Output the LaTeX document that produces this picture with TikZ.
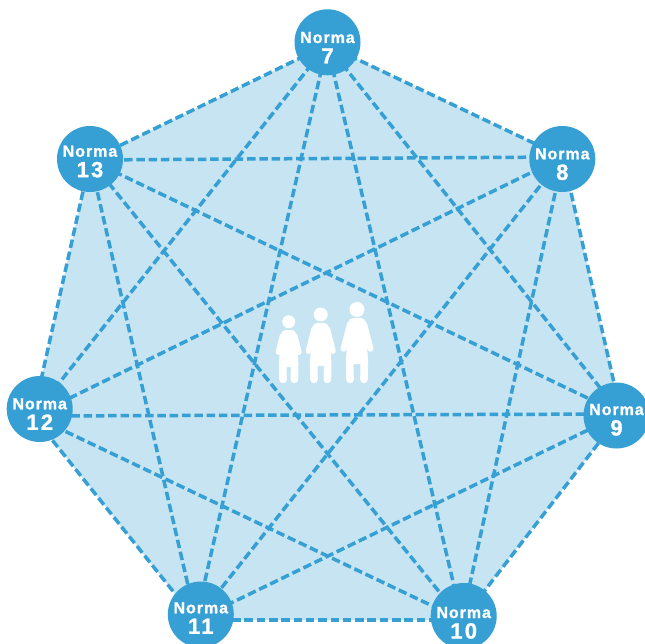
\documentclass[tikz,border=0pt]{standalone}
\usepackage{fontspec}
\setmainfont{Liberation Sans}
\newfontfamily\normafont[LetterSpace=6,FakeBold=1.2]{Liberation Sans}
\newfontfamily\numfont[LetterSpace=10,FakeBold=1.2]{Liberation Sans}
\usetikzlibrary{backgrounds}
\definecolor{normablue}{HTML}{369FD3}
\definecolor{normafill}{HTML}{C6E4F2}
\tikzset{
  x=1pt,y=-1pt,
  normanode/.style={circle,fill=normablue,draw=none,minimum size=66pt,inner sep=0pt,text=white,font=\bfseries\fontsize{16}{20.5}\selectfont},
  link/.style={draw=normablue,line width=3.5pt,dash pattern=on 8.5pt off 3.8pt},
  limb/.style={draw=white,line cap=round,line join=round},
}
% #1 cx, #2 head y, #3 head r, #4 torso top, #5 shoulder dx, #6 arm dx, #7 arm y, #8 crotch y, #9 leg dx
\newcommand{\personfig}[9]{%
  \fill[white] (#1,#2) circle (#3);
  \fill[white,rounded corners=4pt] (#1-#5-1,#4) -- (#1+#5+1,#4) -- (#1+#9+2.6,#7-6) -- (#1+#9+3.9,#8+1) -- (#1-#9-3.9,#8+1) -- (#1-#9-2.6,#7-6) -- cycle;
  \draw[limb,line width=6pt] (#1-#5,#4+6) -- (#1-#6,#7);
  \draw[limb,line width=6pt] (#1+#5,#4+6) -- (#1+#6,#7);
  \draw[limb,line width=7.6pt] (#1-#9,#8-3) -- (#1-#9+.3,379.4);
  \draw[limb,line width=7.6pt] (#1+#9,#8-3) -- (#1+#9-.3,379.4);
}
% #1 baseline of "Norma" below the disc centre (pt), #2 number
\newcommand{\normatext}[2]{%
  \makebox[0pt]{\raisebox{\dimexpr-#1pt\relax}[0pt][0pt]{\normafont Norma}}%
  \makebox[0pt]{\raisebox{\dimexpr-#1pt-20.5pt\relax}[0pt][0pt]{\numfont\fontsize{22}{20.5}\selectfont #2}}}
\begin{document}
\begin{tikzpicture}
\useasboundingbox (0,0) rectangle (645,644);
\clip (0,0) rectangle (645,644);
\node[normanode] (n7) at (327.5,42.3) {\normatext{0.7}{7}};
\node[normanode] (n8) at (562.3,159) {\normatext{0.3}{8}};
\node[normanode] (n9) at (616.5,415.5) {\normatext{-0.5}{9}};
\node[normanode] (n10) at (463.7,616) {\normatext{2}{10}};
\node[normanode] (n11) at (200.8,614.5) {\normatext{-1.2}{11}};
\node[normanode] (n12) at (39.7,409) {\normatext{0.3}{12}};
\node[normanode] (n13) at (90,159) {\normatext{-2.3}{13}};
\coordinate (h7) at (327,45);
\coordinate (h8) at (563,157);
\coordinate (h9) at (621,414);
\coordinate (h10) at (462,620);
\coordinate (h11) at (196,620);
\coordinate (h12) at (33,416);
\coordinate (h13) at (90,160);
\begin{pgfonlayer}{background}
\fill[normafill] (h7) -- (h8) -- (h9) -- (h10) -- (h11) -- (h12) -- (h13) -- cycle;
\foreach \a/\b in {7/8,7/9,7/10,7/11,7/12,7/13,8/9,8/10,8/11,8/12,8/13,9/10,9/11,9/12,9/13,10/11,10/12,10/13,11/12,11/13,12/13}
  \draw[link] (h\a) -- (h\b);
\end{pgfonlayer}
\personfig{288.7}{321.7}{6.5}{330}{6}{10}{352}{366}{6}
\personfig{320.7}{314.5}{7}{323}{6.5}{12}{351}{365}{7}
\personfig{357}{309.5}{7.5}{318}{7}{13.5}{348.7}{363}{7.3}
\end{tikzpicture}
\end{document}
